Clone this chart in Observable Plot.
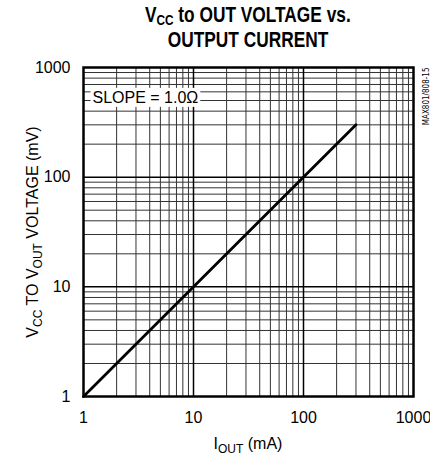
<!DOCTYPE html>
<html><head><meta charset="utf-8">
<script src="https://cdn.jsdelivr.net/npm/d3@7"></script>
<script src="https://cdn.jsdelivr.net/npm/@observablehq/plot@0.6"></script>
<style>
body{margin:0;background:#fff;font-family:"Liberation Sans",Arial,sans-serif;}
#title{width:330px;margin-left:83px;height:55px;text-align:center;font-family:"Liberation Sans",Arial,sans-serif;font-weight:bold;font-size:22px;line-height:25px;padding-top:2px;box-sizing:border-box;color:#000;}
#title .ln{display:inline-block;transform-origin:50% 50%;white-space:nowrap;}
#title sub{font-size:15px;vertical-align:-3px;line-height:0;}
svg{display:block;}
</style></head><body>
<div id="title"><div><span class="ln" id="t1">V<sub>CC</sub> to OUT VOLTAGE vs.</span></div><div><span class="ln" id="t2">OUTPUT CURRENT</span></div></div>
<div id="chart"></div>
<script>
const currentMA = [1, 300];
const voltageMV = [1, 300];
const decadeTicks = [1, 10, 100, 1000];
const majorGrid = [10, 100];
const minorGrid = [2, 3, 4, 5, 6, 7, 8, 9, 20, 30, 40, 50, 60, 70, 80, 90, 200, 300, 400, 500, 600, 700, 800, 900];
const slopeLabel = "SLOPE = 1.0Ω";
const figureCode = "MAX801/808-15";

// condense title lines like the reference's condensed bold face
const t1 = document.getElementById("t1");
const t2 = document.getElementById("t2");
const sc = 206 / t1.offsetWidth;
t1.style.transform = `scaleX(${sc})`;
t2.style.transform = `scaleX(${sc})`;

const data = currentMA.map((c, i) => ({current: c, voltage: voltageMV[i]}));

const chart = Plot.plot({
  width: 430, height: 404,
  marginTop: 12, marginBottom: 63, marginLeft: 83, marginRight: 17,
  style: {fontSize: "16px", fontFamily: "'Liberation Sans', Arial, sans-serif", color: "#000", background: "#fff"},
  x: {type: "log", domain: [1, 1000], ticks: decadeTicks, tickFormat: d => String(d), label: null, tickSize: 0, tickPadding: 15},
  y: {type: "log", domain: [1, 1000], ticks: decadeTicks, tickFormat: d => String(d), label: null, tickSize: 0, tickPadding: 13},
  marks: [
    Plot.ruleX(minorGrid, {stroke: "#333", strokeWidth: 1}),
    Plot.ruleY(minorGrid, {stroke: "#333", strokeWidth: 1}),
    Plot.ruleX(majorGrid, {stroke: "#000", strokeWidth: 1.5}),
    Plot.ruleY(majorGrid, {stroke: "#000", strokeWidth: 1.5}),
    Plot.text([slopeLabel], {frameAnchor: "top-left", dx: 9, dy: 24, textAnchor: "start", fontSize: 16, fill: "#000"}),
    Plot.line(data, {x: "current", y: "voltage", stroke: "#000", strokeWidth: 2.8}),
    Plot.frame({stroke: "#000", strokeWidth: 2.5}),
    Plot.text([figureCode], {frameAnchor: "top-right", rotate: -90, dx: 10, textAnchor: "end", fontSize: 8, fill: "#000", fontFamily: "'Liberation Sans Narrow', 'DejaVu Sans Condensed', sans-serif"})
  ]
});
document.getElementById("chart").appendChild(chart);

const svg = d3.select(chart);
// white box behind slope label
svg.selectAll("text").filter(function(){ return this.textContent === slopeLabel; }).each(function(){
  const b = this.getBBox();
  const g = this.parentNode;
  const r = d3.select(g).insert("rect", () => this)
    .attr("x", b.x - 2).attr("y", b.y - 1).attr("width", b.width + 4).attr("height", b.height + 2)
    .attr("fill", "#fff").attr("stroke", "none");
  const tr = this.getAttribute("transform");
  if (tr) r.attr("transform", tr);
});
// axis labels with subscripts
const ylab = svg.append("text")
  .attr("transform", "translate(38,177) rotate(-90)")
  .attr("text-anchor", "middle")
  .attr("font-size", 16).attr("fill", "#000")
  .attr("font-family", "'Liberation Sans', Arial, sans-serif");
ylab.append("tspan").text("V");
ylab.append("tspan").attr("font-size", 12).attr("dy", 4).text("CC");
ylab.append("tspan").attr("dy", -4).text(" TO V");
ylab.append("tspan").attr("font-size", 12).attr("dy", 4).text("OUT");
ylab.append("tspan").attr("dy", -4).text(" VOLTAGE (mV)");

const xlab = svg.append("text")
  .attr("transform", "translate(248,394)")
  .attr("text-anchor", "middle")
  .attr("font-size", 16).attr("fill", "#000")
  .attr("font-family", "'Liberation Sans', Arial, sans-serif");
xlab.append("tspan").text("I");
xlab.append("tspan").attr("font-size", 12).attr("dy", 4).text("OUT");
xlab.append("tspan").attr("dy", -4).text(" (mA)");
</script>
</body></html>
